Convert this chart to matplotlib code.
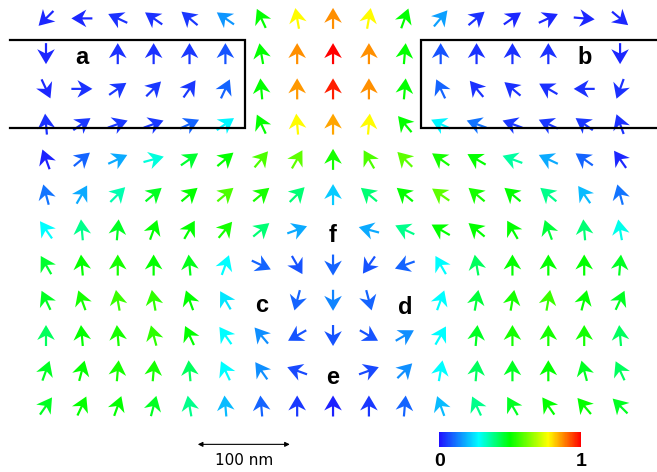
import numpy as np
import matplotlib
matplotlib.use('Agg')
import matplotlib.pyplot as plt
from matplotlib.colors import LinearSegmentedColormap

nan = np.nan

# arrow direction in screen degrees (0 = right, 90 = up), nan = no arrow
angle_deg = np.array([
    [225, 180, 155, 145, 140, 145, 115, 100, 90, 80, 70, 50, 40, 35, 25, -5, -40],
    [270, nan, 90, 90, 90, 90, 100, 90, 90, 90, 85, 90, 90, 90, 90, nan, 270],
    [-65, 0, 35, 45, 55, 65, 95, 90, 90, 90, 85, 115, 130, 140, 150, 180, 250],
    [95, 35, 20, 20, 25, 35, 115, 95, 90, 85, 130, 155, 160, 160, 155, 145, 110],
    [110, 40, 25, 15, 35, 40, 50, 60, 90, 120, 135, 145, 150, 160, 155, 145, 125],
    [105, 60, 45, 40, 40, 40, 40, 45, 90, 140, 140, 145, 140, 140, 140, 125, 105],
    [125, 95, 85, 70, 60, 50, 40, 20, nan, 165, 155, 150, 140, 120, 110, 95, 100],
    [120, 95, 90, 90, 95, 70, -25, -60, 270, 235, 200, 120, 100, 90, 90, 90, 85],
    [115, 110, 100, 100, 110, 120, nan, 255, 270, 285, nan, 70, 80, 80, 80, 75, 65],
    [90, 95, 95, 105, 115, 125, 130, 210, 270, -30, 30, 60, 85, 90, 90, 90, 95],
    [70, 75, 85, 85, 95, 115, 125, 160, nan, 20, 45, 80, 85, 90, 90, 105, 115],
    [55, 65, 70, 75, 100, 95, 95, 90, 90, 90, 85, 110, 115, 120, 125, 130, 135],
])

# normalised field magnitude (0..1)
magnitude = np.array([
    [0.03, 0.03, 0.04, 0.04, 0.05, 0.16, 0.50, 0.77, 0.87, 0.77, 0.50, 0.17, 0.04, 0.03, 0.03, 0.03, 0.03],
    [0.03, nan, 0.04, 0.04, 0.05, 0.08, 0.50, 0.87, 1.00, 0.87, 0.50, 0.08, 0.04, 0.04, 0.04, nan, 0.03],
    [0.03, 0.04, 0.05, 0.05, 0.05, 0.10, 0.50, 0.86, 0.97, 0.87, 0.50, 0.10, 0.04, 0.04, 0.04, 0.04, 0.04],
    [0.04, 0.05, 0.05, 0.05, 0.10, 0.27, 0.50, 0.77, 0.85, 0.77, 0.50, 0.27, 0.12, 0.05, 0.05, 0.05, 0.04],
    [0.02, 0.10, 0.18, 0.31, 0.46, 0.50, 0.58, 0.60, 0.52, 0.58, 0.60, 0.52, 0.50, 0.36, 0.18, 0.10, 0.03],
    [0.12, 0.18, 0.35, 0.47, 0.50, 0.58, 0.52, 0.40, 0.22, 0.40, 0.50, 0.60, 0.52, 0.50, 0.38, 0.20, 0.12],
    [0.28, 0.38, 0.47, 0.50, 0.50, 0.52, 0.40, 0.18, nan, 0.18, 0.38, 0.50, 0.50, 0.50, 0.45, 0.40, 0.30],
    [0.46, 0.50, 0.52, 0.50, 0.48, 0.28, 0.10, 0.08, 0.10, 0.08, 0.10, 0.28, 0.42, 0.50, 0.50, 0.50, 0.47],
    [0.47, 0.52, 0.56, 0.55, 0.50, 0.25, nan, 0.10, 0.14, 0.10, nan, 0.28, 0.45, 0.52, 0.56, 0.50, 0.47],
    [0.42, 0.50, 0.52, 0.55, 0.50, 0.28, 0.15, 0.08, 0.08, 0.08, 0.15, 0.28, 0.47, 0.52, 0.52, 0.52, 0.42],
    [0.47, 0.50, 0.52, 0.52, 0.42, 0.28, 0.15, 0.07, nan, 0.07, 0.15, 0.28, 0.42, 0.47, 0.50, 0.47, 0.42],
    [0.47, 0.50, 0.50, 0.47, 0.38, 0.20, 0.10, 0.05, 0.02, 0.05, 0.10, 0.20, 0.38, 0.47, 0.50, 0.50, 0.47],
])

# grid (nm)
x_nm = 50 + 39 * np.arange(17)
y_nm = 20 + 38.3 * np.arange(12)

cmap = LinearSegmentedColormap.from_list(
    'field', [(0, '#1f10ff'), (0.28, '#00ffff'), (0.5, '#00ff00'),
              (0.77, '#ffff00'), (1, '#ff0000')])

nm_per_px = 100 / 92
fig = plt.figure(figsize=(6.57, 4.72), dpi=100)
ax = fig.add_axes([0, 0, 1, 1])
ax.set_xlim(0, 657 * nm_per_px)
ax.set_ylim(472 * nm_per_px, 0)
ax.axis('off')

X, Y = np.meshgrid(x_nm, y_nm)
ok = ~np.isnan(angle_deg)
th = np.deg2rad(angle_deg[ok])
q = ax.quiver(X[ok], Y[ok], np.cos(th), np.sin(th), magnitude[ok],
              cmap=cmap, clim=(0, 1), angles='uv', pivot='middle',
              scale_units='dots', scale=1 / 21, units='dots', width=2.2,
              headwidth=8, headlength=6.8, headaxislength=5)

# slot walls
wall_top, wall_bot = 43.5, 139
left_end, right_start = 266, 458
xmax = 657 * nm_per_px
ax.plot([11, left_end, left_end, 11], [wall_top, wall_top, wall_bot, wall_bot],
        color='black', lw=1.6, solid_joinstyle='miter')
ax.plot([xmax, right_start, right_start, xmax], [wall_top, wall_top, wall_bot, wall_bot],
        color='black', lw=1.6, solid_joinstyle='miter')

# region labels (grid col, row)
labels = {'a': (1, 1.1), 'b': (15, 1.1), 'c': (6, 8.15), 'd': (10, 8.2),
          'e': (8, 10.2), 'f': (8, 6.15)}
for s, (c, r) in labels.items():
    ax.text(50 + 39 * c, 20 + 38.3 * r, s, ha='center', va='center',
            fontsize=17, fontweight='bold', family='Liberation Sans')

# scale bar
bar_x0, bar_len, bar_y = 215, 100, 483
ax.annotate('', xy=(bar_x0 + bar_len, bar_y), xytext=(bar_x0, bar_y),
            arrowprops=dict(arrowstyle='<|-|>', color='black', lw=0.8,
                            mutation_scale=7, shrinkA=0, shrinkB=0))
ax.text(bar_x0 + bar_len / 2, bar_y + 17, '100 nm', ha='center', va='center',
        fontsize=11, family='DejaVu Sans')

# colour bar
cax = fig.add_axes([439 / 657, 1 - 447 / 472, 142 / 657, 15 / 472])
cb = fig.colorbar(q, cax=cax, orientation='horizontal')
cb.set_ticks([])
cb.outline.set_visible(False)
fig.text(440 / 657, 1 - 461 / 472, '0', ha='center', va='center',
         fontsize=14, fontweight='bold', family='Liberation Sans')
fig.text(581 / 657, 1 - 461 / 472, '1', ha='center', va='center',
         fontsize=14, fontweight='bold', family='Liberation Sans')

fig.savefig('out.png', dpi=100)
